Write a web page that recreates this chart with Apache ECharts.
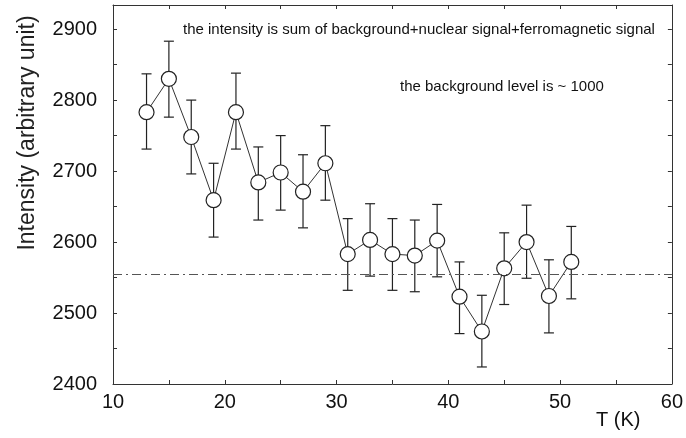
<!DOCTYPE html>
<html>
<head>
<meta charset="utf-8">
<script src="https://cdn.jsdelivr.net/npm/echarts@6/dist/echarts.min.js"></script>
<style>
html,body{margin:0;padding:0;background:#fff;}
#main{width:686px;height:438px;}
</style>
</head>
<body>
<div id="main"></div>
<script>
// temperature (K)
var temps = [13, 15, 17, 19, 21, 23, 25, 27, 29, 31, 33, 35, 37, 39, 41, 43, 45, 47, 49, 51];
// intensity
var intensity = [2783, 2830, 2748, 2659, 2783, 2684, 2698, 2671, 2711, 2583,
                 2603, 2583, 2581, 2602, 2523, 2474, 2563, 2600, 2524, 2572];
// error bar low / high
var errLow  = [2731, 2776, 2696, 2607, 2731, 2631, 2645, 2620, 2659, 2532,
               2552, 2532, 2530, 2551, 2471, 2424, 2512, 2549, 2472, 2520];
var errHigh = [2837, 2883, 2800, 2711, 2838, 2734, 2750, 2723, 2764, 2633,
               2654, 2633, 2631, 2653, 2572, 2525, 2613, 2652, 2575, 2622];
var refLevel = 2554;
var xTicks = [10, 20, 30, 40, 50, 60];
var yTicks = [2400, 2500, 2600, 2700, 2800, 2900];

var lineData = [];
var errData = [];
for (var i = 0; i < temps.length; i++) {
    lineData.push([temps[i], intensity[i]]);
    errData.push([temps[i], errLow[i], errHigh[i]]);
}

var dom = document.getElementById("main");
var myChart = echarts.init(dom);
var font = "'Liberation Sans', Arial, sans-serif";
var axisCol = '#333';

//误差棒
function errorBar(params, api) {
    var x = api.value(0);
    var lo = api.coord([x, api.value(1)]);
    var hi = api.coord([x, api.value(2)]);
    var w = 5;
    var st = {stroke: '#222', lineWidth: 1.2};
    return {
        type: 'group',
        children: [
            {type: 'line', shape: {x1: lo[0], y1: lo[1], x2: hi[0], y2: hi[1]}, style: st},
            {type: 'line', shape: {x1: hi[0] - w, y1: hi[1], x2: hi[0] + w, y2: hi[1]}, style: st},
            {type: 'line', shape: {x1: lo[0] - w, y1: lo[1], x2: lo[0] + w, y2: lo[1]}, style: st}
        ]
    };
}

var option = {
    animation: false,
    backgroundColor: '#fff',
    grid: {left: 113, right: 14, top: 5, bottom: 54},
    xAxis: [{
        type: 'value',
        min: 10,
        max: 60,
        interval: 5,
        axisLine: {lineStyle: {color: axisCol, width: 1}},
        axisTick: {inside: true, length: 4, lineStyle: {color: axisCol}},
        splitLine: {show: false},
        axisLabel: {
            margin: 8,
            fontFamily: font,
            fontSize: 20,
            color: '#111',
            formatter: function (v) { return xTicks.indexOf(v) >= 0 ? v : ''; }
        }
    }, {
        type: 'value',
        position: 'top',
        min: 10,
        max: 60,
        interval: 5,
        axisLine: {lineStyle: {color: axisCol, width: 1}},
        axisTick: {inside: true, length: 4, lineStyle: {color: axisCol}},
        splitLine: {show: false},
        axisLabel: {show: false}
    }],
    yAxis: [{
        type: 'value',
        min: 2400,
        max: 2934,
        interval: 50,
        axisLine: {show: true, lineStyle: {color: axisCol, width: 1}},
        axisTick: {inside: true, length: 4, lineStyle: {color: axisCol}},
        splitLine: {show: false},
        axisLabel: {
            margin: 16,
            fontFamily: font,
            fontSize: 20,
            color: '#111',
            showMaxLabel: false,
            formatter: function (v) { return yTicks.indexOf(v) >= 0 ? v : ''; }
        }
    }, {
        type: 'value',
        position: 'right',
        min: 2400,
        max: 2934,
        interval: 50,
        axisLine: {show: true, lineStyle: {color: axisCol, width: 1}},
        axisTick: {inside: true, length: 4, lineStyle: {color: axisCol}},
        splitLine: {show: false},
        axisLabel: {show: false}
    }],
    series: [{
        type: 'custom',
        renderItem: errorBar,
        data: errData,
        z: 2
    }, {
        type: 'line',
        data: lineData,
        symbol: 'circle',
        symbolSize: 15,
        lineStyle: {color: '#333', width: 1},
        itemStyle: {color: '#fff', borderColor: '#222', borderWidth: 1.2},
        z: 3,
        markLine: {
            silent: true,
            symbol: 'none',
            label: {show: false},
            lineStyle: {color: '#555', width: 1, type: [9, 4, 2, 4]},
            data: [{yAxis: refLevel}]
        }
    }],
    graphic: [{
        type: 'text',
        x: 28,
        y: 133,
        rotation: Math.PI / 2,
        style: {
            text: 'Intensity (arbitrary unit)',
            font: '23px ' + font,
            fill: '#222',
            textAlign: 'center',
            textVerticalAlign: 'middle'
        }
    }, {
        type: 'text',
        left: 183,
        top: 22,
        style: {
            text: 'the intensity is sum of background+nuclear signal+ferromagnetic signal',
            font: '15px ' + font,
            fill: '#111'
        }
    }, {
        type: 'text',
        left: 400,
        top: 79,
        style: {
            text: 'the background level is ~ 1000',
            font: '15px ' + font,
            fill: '#111'
        }
    }, {
        type: 'text',
        left: 596,
        top: 410,
        style: {
            text: 'T (K)',
            font: '20px ' + font,
            fill: '#111'
        }
    }]
};

if (option && typeof option === "object") {
    myChart.setOption(option, true);
}
</script>
</body>
</html>
